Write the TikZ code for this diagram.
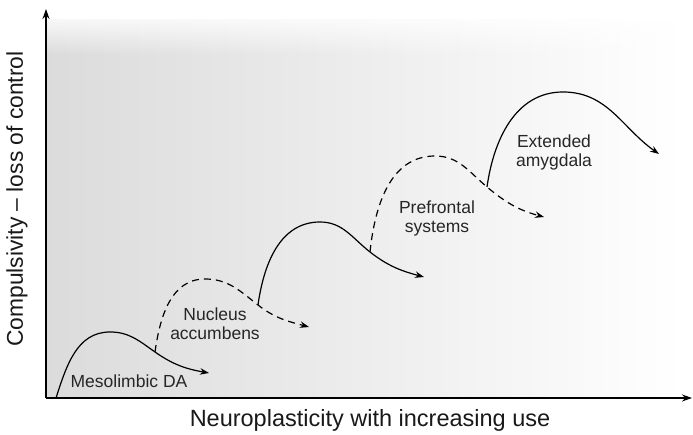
\documentclass[tikz,border=0pt]{standalone}
\usepackage{fontspec}
\setmainfont{Liberation Sans}
\usetikzlibrary{arrows.meta,fadings}
\begin{document}
\begin{tikzpicture}[x=1pt,y=1pt,
  curve/.style={line width=1.2pt,-{Stealth[length=9pt,width=6.5pt]}},
  dcurve/.style={curve,dash pattern=on 7pt off 5pt},
  axis/.style={line width=1.3pt,-{Stealth[length=10pt,width=7pt]}},
  lbl/.style={font=\fontsize{17.5}{20}\selectfont,align=center,inner sep=0pt,text=black!85},
  axlbl/.style={font=\fontsize{22.8}{26}\selectfont,inner sep=0pt,text=black!90}]
\useasboundingbox (0,0) rectangle (693,435);
\shade[left color=black!14,right color=white] (46,37) rectangle (682,415);
\fill[white,path fading=south,fill opacity=0.8] (46,380) rectangle (682,416);
% axes
\coordinate (O) at (46,37);
\coordinate (Ytop) at (46,426);
\coordinate (Xend) at (692,37);
\draw[axis] (O) -- (Ytop);
\draw[axis] (O) -- (Xend);
\node[axlbl,rotate=90] (ylab) at (17,236) {Compulsivity – loss of control};
\node[axlbl,font=\fontsize{23.5}{27}\selectfont] (xlab) at (370,15) {Neuroplasticity with increasing use};
% key points
\coordinate (s1) at (56,37);
\coordinate (p1) at (110,103);
\coordinate (j1) at (155,83);
\coordinate (e1) at (209,62);
\coordinate (p2) at (205,156);
\coordinate (j2) at (258,130);
\coordinate (e2) at (309,108);
\coordinate (p3) at (320,213);
\coordinate (j3) at (370,183);
\coordinate (e3) at (424,158);
\coordinate (p4) at (435,279);
\coordinate (j4) at (487,248);
\coordinate (e4) at (544,218);
\coordinate (p5) at (563,343);
\coordinate (e5) at (659,281);
% curves
\draw[curve] (s1) to[out=72,in=180] (p1) to[out=0,in=145] (j1) to[out=-35,in=170] (e1);
\draw[dcurve] (j1) to[out=82,in=180] (p2) to[out=0,in=142] (j2) to[out=-38,in=165] (e2);
\draw[curve] (j2) to[out=82,in=180] (p3) to[out=0,in=142] (j3) to[out=-38,in=165] (e3);
\draw[dcurve] (j3) to[out=84,in=180] (p4) to[out=0,in=140] (j4) to[out=-40,in=165] (e4);
\draw[curve] (j4) to[out=82,in=180] (p5) to[out=0,in=145] (e5);
% labels
\node[lbl] (l1) at (129,54) {Mesolimbic DA};
\node[lbl] (l2) at (215,111) {Nucleus\\[-1pt]accumbens};
\node[lbl] (l3) at (437,217) {Prefrontal\\[-1pt]systems};
\node[lbl] (l4) at (554,283) {Extended\\[-1pt]amygdala};
\end{tikzpicture}
\end{document}
